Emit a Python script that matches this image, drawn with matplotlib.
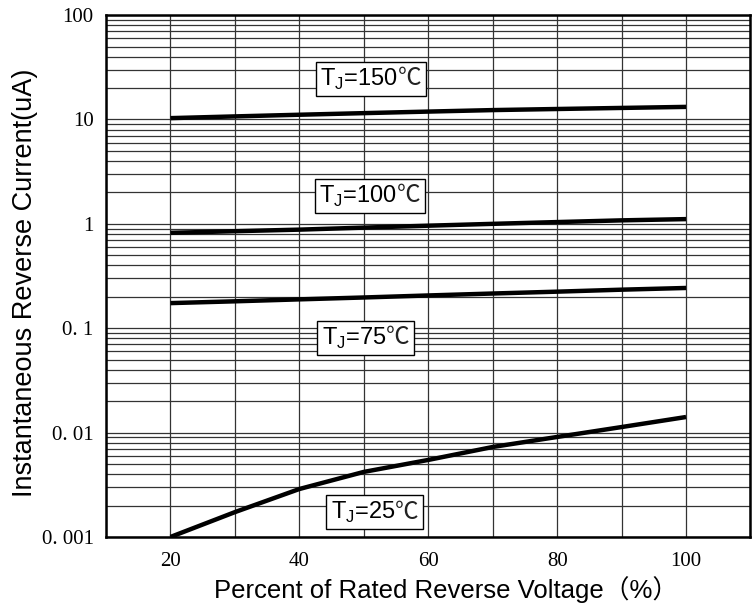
import numpy as np
import matplotlib.pyplot as plt
from matplotlib.ticker import FixedLocator, NullFormatter
from matplotlib.offsetbox import TextArea, HPacker, AnnotationBbox

# datos
volt = [20, 30, 40, 50, 60, 70, 80, 90, 100]
i_150 = [10.3, 10.7, 11.1, 11.5, 11.9, 12.3, 12.6, 12.9, 13.2]
i_100 = [0.82, 0.85, 0.88, 0.92, 0.96, 1.00, 1.04, 1.08, 1.11]
i_75 = [0.174, 0.181, 0.189, 0.197, 0.206, 0.215, 0.224, 0.234, 0.243]
i_25 = [0.00100, 0.00173, 0.00288, 0.0042, 0.00547, 0.00728, 0.00908, 0.0113, 0.0141]

etiquetas = ['150', '100', '75', '25']
etiq_x = [51.1, 50.9, 50.3, 51.7]
etiq_y = [24.4, 1.85, 0.0805, 0.00173]

y_ticks = [0.001, 0.01, 0.1, 1, 10, 100]
y_labels = ['0. 001', '0. 01', '0. 1', '1', '10', '100']
x_ticks = [20, 40, 60, 80, 100]

fig = plt.figure(figsize=(7.52, 6.04), dpi=100)
ax = fig.add_axes([0.141, 0.111, 0.857, 0.864])

ax.set_yscale('log')
ax.set_xlim(10, 110)
ax.set_ylim(0.001, 100)

# rejilla
ax.xaxis.set_minor_locator(FixedLocator(np.arange(10, 111, 10)))
ax.yaxis.set_minor_locator(FixedLocator([m * 10.0 ** e for e in range(-3, 2) for m in range(2, 10)]))
ax.yaxis.set_minor_formatter(NullFormatter())
ax.grid(True, which='both', color='#333333', linewidth=0.9)
ax.set_axisbelow(True)
ax.tick_params(which='both', length=0)

for serie in [i_150, i_100, i_75, i_25]:
    ax.plot(volt, serie, color='black', linewidth=3.2, solid_capstyle='butt')

# etiquetas de temperatura (el simbolo ℃ va en fuente CJK)
for t, xx, yy in zip(etiquetas, etiq_x, etiq_y):
    a = TextArea('T$_{\\mathregular{J}}$=' + t,
                 textprops=dict(fontsize=17, family='Liberation Sans'))
    b = TextArea('℃', textprops=dict(fontsize=17, family='Noto Sans CJK SC', color='#222222'))
    caja = HPacker(children=[a, b], align='baseline', pad=0, sep=0)
    ab = AnnotationBbox(caja, (xx, yy), xycoords='data', frameon=True, pad=0.35,
                        box_alignment=(0.5, 0.5),
                        bboxprops=dict(boxstyle='square', facecolor='white',
                                       edgecolor='black', linewidth=1))
    ab.set_zorder(5)
    ax.add_artist(ab)

ax.set_xticks(x_ticks)
ax.set_xticklabels([str(v) for v in x_ticks], family='Liberation Serif', fontsize=15)
ax.set_yticks(y_ticks)
ax.set_yticklabels(y_labels, family='Liberation Serif', fontsize=15)
ax.tick_params(axis='x', pad=11)
ax.tick_params(axis='y', pad=9)

for s in ax.spines.values():
    s.set_linewidth(1.8)

ax.set_xlabel('Percent of Rated Reverse Voltage（%）', fontsize=18.5,
              family=['Liberation Sans', 'Noto Sans CJK SC'])
ax.xaxis.set_label_coords(0.527, -0.074)
ax.set_ylabel('Instantaneous Reverse Current(uA)', fontsize=19.5,
              family=['Liberation Sans', 'Noto Sans CJK SC'])
ax.yaxis.set_label_coords(-0.105, 0.487)

fig.savefig('out.png', dpi=100)
